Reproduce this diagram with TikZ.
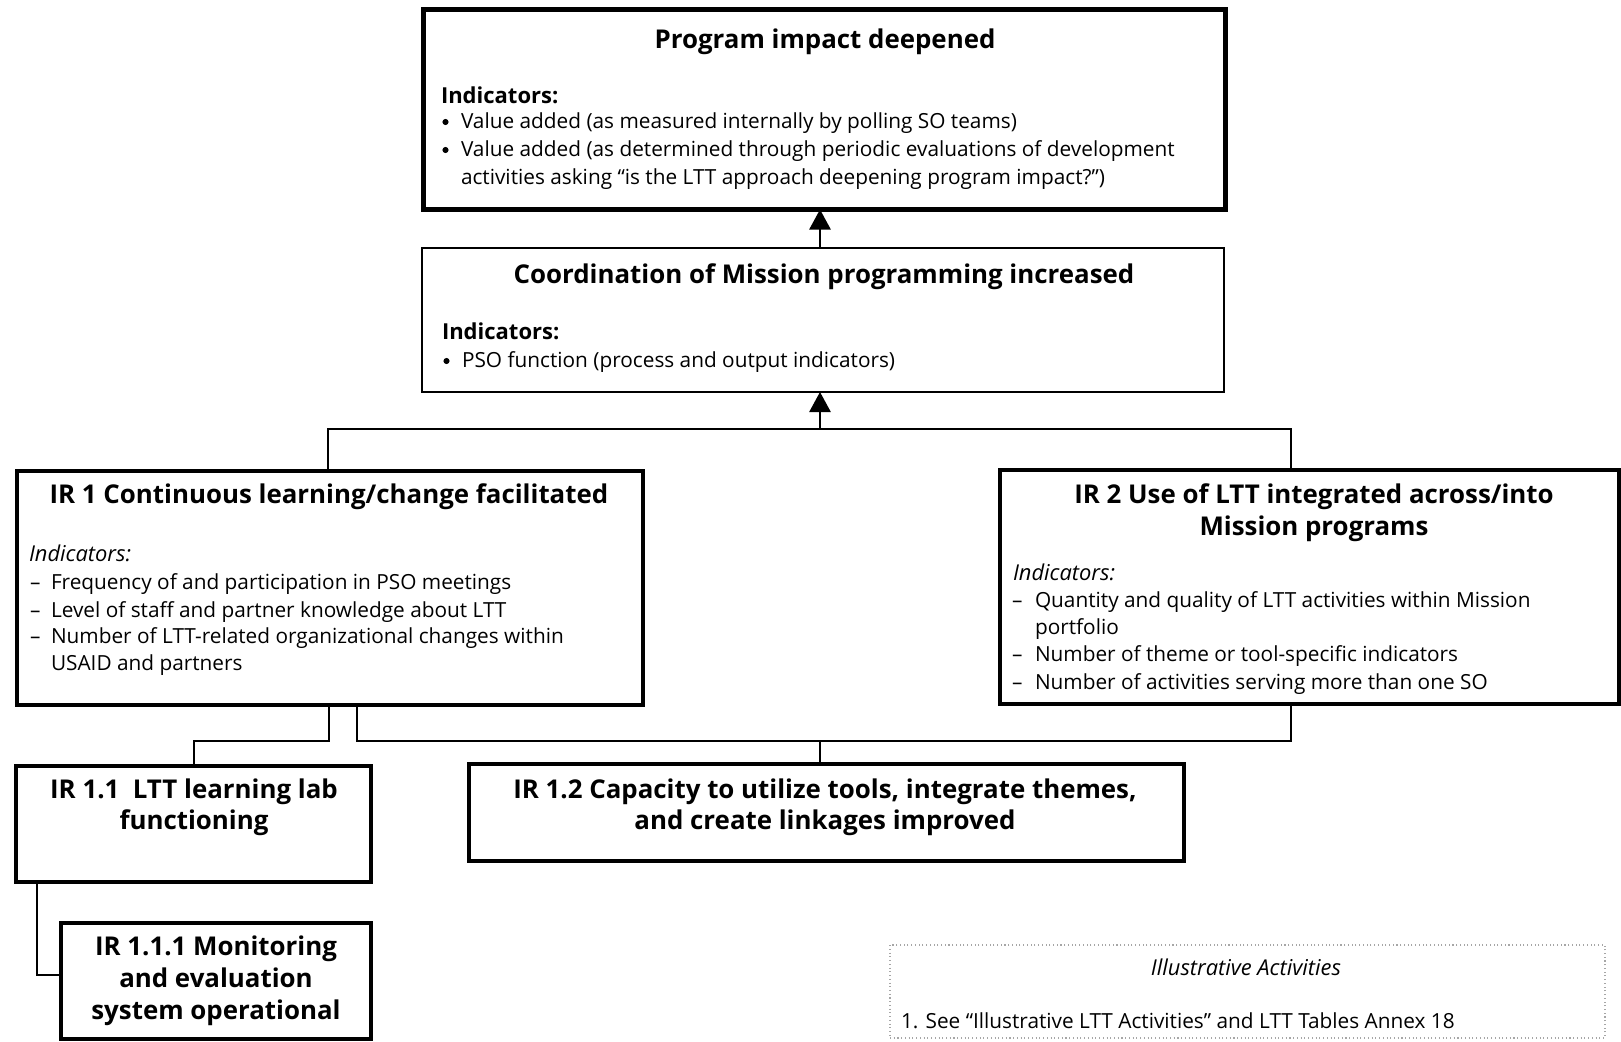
\documentclass[tikz,border=0pt]{standalone}
\usepackage{fontspec}
\setmainfont{Open Sans}
\usetikzlibrary{arrows.meta,fit}

\begin{document}
\begin{tikzpicture}[x=0.75pt,y=-0.75pt,
  every node/.style={inner sep=0pt,outer sep=0pt},
  frame/.style={draw,inner sep=0pt,fit={#1}},
  heavy/.style={line width=3.75pt},
  medium/.style={line width=2.6pt},
  light/.style={line width=1.1pt},
  link/.style={line width=1.1pt},
  arr/.style={link,-{Triangle[width=16pt,length=15pt]}},
  ttl/.style={font=\fontsize{19.4pt}{24pt}\selectfont\bfseries,anchor=base},
  txt/.style={font=\fontsize{15.6pt}{20pt}\selectfont,anchor=base west},
  hdr/.style={font=\fontsize{16.5pt}{20pt}\selectfont\bfseries,anchor=base west},
  ihdr/.style={font=\fontsize{16.4pt}{20pt}\selectfont\itshape,anchor=base west},
  bul/.style={font=\fontsize{15.6pt}{20pt}\selectfont,anchor=base west},
  dot/.style={circle,fill,minimum size=4.6pt}]

\useasboundingbox (0,0) rectangle (1621,1042);

% ---- boxes ----
\node[frame={(423.5,9.5)(1225.5,209.5)},heavy] (impact) {};
\node[frame={(422,248)(1224,392)},light] (coord) {};
\node[frame={(17,471)(643,705)},medium] (ir1) {};
\node[frame={(1000,470)(1619,704)},medium] (ir2) {};
\node[frame={(16,766)(371,882)},medium] (ir11) {};
\node[frame={(469,764)(1184,861)},medium] (ir12) {};
\node[frame={(61,923)(371,1039)},medium] (ir111) {};
\node[frame={(890,945)(1605,1038)},draw=gray!70,dotted,line width=0.8pt] (acts) {};

% ---- connectors ----
\coordinate (mid) at (820,0);
\coordinate (bus) at (820,429);
\coordinate (busL) at (328,429);
\coordinate (busR) at (1291,429);
\coordinate (j0) at (194,741);
\coordinate (j1) at (329,741);
\coordinate (k1) at (357,741);
\coordinate (k2) at (1291,741);
\coordinate (k3) at (820,741);
\coordinate (m) at (37,975);

\draw[arr] (coord.north -| mid) -- (impact.south -| mid);
\draw[arr] (bus) -- (coord.south -| bus);
\draw[link] (ir1.north -| busL) -- (busL) -- (busR) -- (ir2.north -| busR);
\draw[link] (ir1.south -| j1) -- (j1) -- (j0) -- (ir11.north -| j0);
\draw[link] (ir1.south -| k1) -- (k1) -- (k2) -- (ir2.south -| k2);
\draw[link] (k3) -- (ir12.north -| k3);
\draw[link] (ir11.south -| m) -- (m) -- (ir111.west |- m);

% ---- program impact ----
\node[ttl] (impactT) at (825,48) {Program impact deepened};
\node[hdr] (impactH) at (441,103) {Indicators:};
\node[dot] (impactB1) at (445.5,122) {};
\node[txt] (impactL1) at (461,128) {Value added (as measured internally by polling SO teams)};
\node[dot] (impactB2) at (445.5,150) {};
\node[txt] (impactL2) at (461,156) {Value added (as determined through periodic evaluations of development};
\node[txt] (impactL3) at (461,184) {activities asking “is the LTT approach deepening program impact?”)};

% ---- coordination ----
\node[ttl] (coordT) at (824,283) {Coordination of Mission programming increased};
\node[hdr] (coordH) at (442,339) {Indicators:};
\node[dot] (coordB1) at (446.5,361) {};
\node[txt] (coordL1) at (462,367) {PSO function (process and output indicators)};

% ---- IR 1 ----
\node[ttl] (ir1T) at (329,503) {IR 1 Continuous learning/change facilitated};
\node[ihdr] (ir1H) at (29,561) {Indicators:};
\node[bul] (ir1D1) at (30,589) {–};
\node[txt] (ir1L1) at (51,589) {Frequency of and participation in PSO meetings};
\node[bul] (ir1D2) at (30,617) {–};
\node[txt] (ir1L2) at (51,617) {Level of staff and partner knowledge about LTT};
\node[bul] (ir1D3) at (30,643) {–};
\node[txt] (ir1L3) at (51,643) {Number of LTT-related organizational changes within};
\node[txt] (ir1L4) at (51,670) {USAID and partners};

% ---- IR 2 ----
\node[ttl] (ir2T1) at (1314,503) {IR 2 Use of LTT integrated across/into};
\node[ttl] (ir2T2) at (1314,535) {Mission programs};
\node[ihdr] (ir2H) at (1013,580) {Indicators:};
\node[bul] (ir2D1) at (1012,607) {–};
\node[txt] (ir2L1) at (1035,607) {Quantity and quality of LTT activities within Mission};
\node[txt] (ir2L2) at (1035,634) {portfolio};
\node[bul] (ir2D2) at (1012,661) {–};
\node[txt] (ir2L3) at (1035,661) {Number of theme or tool-specific indicators};
\node[bul] (ir2D3) at (1012,689) {–};
\node[txt] (ir2L4) at (1035,689) {Number of activities serving more than one SO};

% ---- IR 1.1, 1.2, 1.1.1 ----
\node[ttl] (ir11T1) at (194,798) {IR 1.1\ \ LTT learning lab};
\node[ttl] (ir11T2) at (194,829) {functioning};
\node[ttl] (ir12T1) at (825,798) {IR 1.2 Capacity to utilize tools, integrate themes,};
\node[ttl] (ir12T2) at (825,829) {and create linkages improved};
\node[ttl] (ir111T1) at (216,955) {IR 1.1.1 Monitoring};
\node[ttl] (ir111T2) at (216,987) {and evaluation};
\node[ttl] (ir111T3) at (216,1019) {system operational};

% ---- illustrative activities ----
\node[ihdr,anchor=base] (actsT) at (1246,975) {Illustrative Activities};
\node[txt] (actsL) at (901,1028) {1. See “Illustrative LTT Activities” and LTT Tables Annex 18};

\end{tikzpicture}
\end{document}
